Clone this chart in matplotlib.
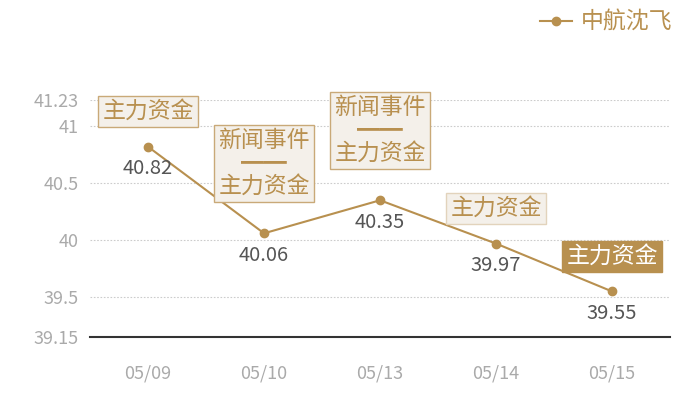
import matplotlib
matplotlib.use('Agg')
import matplotlib.pyplot as plt
from matplotlib.lines import Line2D

plt.rcParams['font.family'] = ['Noto Sans CJK SC', 'DejaVu Sans']

# data
dates = ['05/09', '05/10', '05/13', '05/14', '05/15']
prices = [40.82, 40.06, 40.35, 39.97, 39.55]
events = ['主力资金', '新闻事件\n━━\n主力资金', '新闻事件\n━━\n主力资金', '主力资金', '主力资金']
y_ticks = [39.15, 39.5, 40, 40.5, 41, 41.23]
y_labels = ['39.15', '39.5', '40', '40.5', '41', '41.23']
series_name = '中航沈飞'

gold = '#b8904f'
box_fill = '#f4f0ea'
box_edge = '#c9a978'

fig = plt.figure(figsize=(7, 4), dpi=100)
ax = fig.add_axes([0.1286, 0.1575, 0.8286, 0.5925])

x = list(range(len(dates)))
ax.plot(x, prices, color=gold, linewidth=1.5, marker='o', markersize=6, zorder=2)

ax.set_xlim(-0.5, len(dates) - 0.5)
ax.set_ylim(y_ticks[0], y_ticks[-1])
ax.set_xticks(x)
ax.set_xticklabels(dates)
ax.set_yticks(y_ticks)
ax.set_yticklabels(y_labels)
ax.tick_params(axis='both', length=0, colors='#aaaaaa', labelsize=13)
ax.tick_params(axis='x', pad=20)
ax.tick_params(axis='y', pad=8)

for s in ['top', 'right', 'left']:
    ax.spines[s].set_visible(False)
ax.spines['bottom'].set_color('#333333')
ax.spines['bottom'].set_linewidth(1.5)

# dotted grid lines (the bottom one is the axis)
for t in y_ticks[1:]:
    ax.axhline(t, color='#cccccc', linewidth=0.8, linestyle=(0, (1.5, 1.5)), zorder=0)

# value labels under the points
for i, v in enumerate(prices):
    ax.annotate(f'{v:.2f}', xy=(i, v), xytext=(0, -22), textcoords='offset pixels',
                ha='center', va='center', fontsize=14.5, color='#555555')

# event boxes above the points
for i, (v, ev) in enumerate(zip(prices, events)):
    nlines = ev.count('\n') + 1
    dy = 35 if nlines == 1 else 70
    if i == len(prices) - 1:
        fc, ec, tc = gold, gold, 'white'
    elif i == 3:
        fc, ec, tc = box_fill, '#e2d3bc', gold
    else:
        fc, ec, tc = box_fill, box_edge, gold
    ax.annotate(ev, xy=(i, v), xytext=(0, dy), textcoords='offset pixels',
                ha='center', va='center', fontsize=16.5, color=tc, linespacing=1.0,
                multialignment='center',
                bbox=dict(boxstyle='square,pad=0.18', fc=fc, ec=ec, lw=1), zorder=4)

# legend
handle = Line2D([], [], color=gold, linewidth=1.5, marker='o', markersize=6)
fig.legend([handle], [series_name], loc='upper right', bbox_to_anchor=(0.99, 1.025),
           frameon=False, fontsize=16.5, labelcolor=gold, handlelength=1.4,
           handletextpad=0.4)

fig.savefig('out.png', dpi=100)
